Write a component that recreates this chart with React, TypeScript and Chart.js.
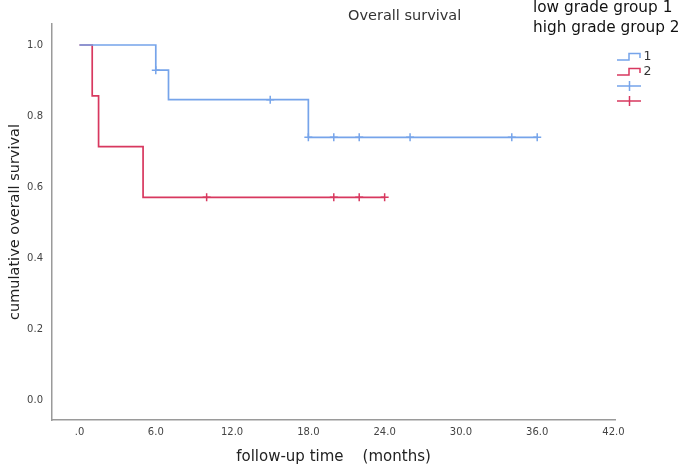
import React, { useEffect, useRef } from "react";
import { Chart, registerables } from "chart.js";

Chart.register(...registerables);

// ---- data ----
const xTickValues = [0, 6, 12, 18, 24, 30, 36, 42];
const yTickValues = [0, 0.2, 0.4, 0.6, 0.8, 1.0];

const group1Times = [0, 6, 7, 18, 36];
const group1Surv = [1.0, 0.929, 0.846, 0.74, 0.74];
const group1CensorTimes = [6, 15, 18, 20, 22, 26, 34, 36];
const group1CensorSurv = [0.929, 0.846, 0.74, 0.74, 0.74, 0.74, 0.74, 0.74];

const group2Times = [0, 1, 1.5, 5, 24];
const group2Surv = [1.0, 0.857, 0.714, 0.571, 0.571];
const group2CensorTimes = [10, 20, 22, 24];
const group2CensorSurv = [0.571, 0.571, 0.571, 0.571];

const legendLabels = ["1", "2"];
const titleText = "Overall survival";
const noteLines = ["low grade group 1", "high grade group 2"];
const xTitle = "follow-up time    (months)";
const yTitle = "cumulative overall survival";

const BLUE = "#76a4ea";
const RED = "#d8385f";
const FONT = "'DejaVu Sans', sans-serif";

const toPts = (xs: number[], ys: number[]) => xs.map((x, i) => ({ x, y: ys[i] }));

const overlayPlugin = {
  id: "overlay",
  afterDraw(chart: any) {
    const ctx = chart.ctx as CanvasRenderingContext2D;
    ctx.save();
    // title
    ctx.fillStyle = "#333";
    ctx.font = `14.5px ${FONT}`;
    ctx.textAlign = "left";
    ctx.textBaseline = "alphabetic";
    ctx.fillText(titleText, 348, 20);
    // note lines
    ctx.fillStyle = "#111";
    ctx.font = `15.3px ${FONT}`;
    ctx.fillText(noteLines[0], 533, 12);
    ctx.fillText(noteLines[1], 533, 32);

    // legend
    const colors = [BLUE, RED];
    ctx.lineWidth = 1.5;
    for (let i = 0; i < 2; i++) {
      const yb = 60 + i * 15;
      ctx.strokeStyle = colors[i];
      ctx.beginPath();
      ctx.moveTo(617, yb);
      ctx.lineTo(629, yb);
      ctx.lineTo(629, yb - 6.5);
      ctx.lineTo(640, yb - 6.5);
      ctx.lineTo(640, yb - 2);
      ctx.stroke();
      ctx.fillStyle = "#333";
      ctx.font = `12.5px ${FONT}`;
      ctx.textBaseline = "middle";
      ctx.fillText(legendLabels[i], 643.5, yb - 3.5);
    }
    for (let i = 0; i < 2; i++) {
      const yc = 86 + i * 15;
      ctx.strokeStyle = colors[i];
      ctx.beginPath();
      ctx.moveTo(617, yc);
      ctx.lineTo(641, yc);
      ctx.moveTo(629.5, yc - 5);
      ctx.lineTo(629.5, yc + 5);
      ctx.stroke();
    }
    ctx.restore();
  },
};

export default function App() {
  const ref = useRef<HTMLCanvasElement | null>(null);

  useEffect(() => {
    if (!ref.current) return;
    const chart = new Chart(ref.current, {
      type: "scatter",
      data: {
        datasets: [
          {
            label: "1",
            data: toPts(group1Times, group1Surv),
            showLine: true,
            stepped: "before",
            borderColor: BLUE,
            borderWidth: 1.7,
            pointRadius: 0,
            fill: false,
          },
          {
            label: "2",
            data: toPts(group2Times, group2Surv),
            showLine: true,
            stepped: "before",
            borderColor: RED,
            borderWidth: 1.7,
            pointRadius: 0,
            fill: false,
          },
          {
            label: "1 censored",
            data: toPts(group1CensorTimes, group1CensorSurv),
            showLine: false,
            pointStyle: "cross",
            pointRadius: 4,
            pointRotation: 0,
            borderColor: BLUE,
            backgroundColor: BLUE,
            pointBorderWidth: 1.5,
          },
          {
            label: "2 censored",
            data: toPts(group2CensorTimes, group2CensorSurv),
            showLine: false,
            pointStyle: "cross",
            pointRadius: 4,
            borderColor: RED,
            backgroundColor: RED,
            pointBorderWidth: 1.5,
          },
        ],
      },
      options: {
        animation: false,
        responsive: false,
        layout: { padding: { top: 24, right: 70, left: 0, bottom: 0 } },
        plugins: {
          legend: { display: false },
          tooltip: { enabled: false },
          title: { display: false },
        },
        scales: {
          x: {
            type: "linear",
            min: -2.163,
            max: 42.118,
            afterBuildTicks: (s: any) => {
              s.ticks = xTickValues.map((v) => ({ value: v }));
            },
            afterFit: (s: any) => {
              s.height = 49;
            },
            grid: { display: false, drawTicks: false },
            border: { display: true, color: "#9a9a9a", width: 1.5 },
            ticks: {
              padding: 6,
              color: "#444",
              font: { family: FONT, size: 10 },
              maxRotation: 0,
              autoSkip: false,
              callback: (v: any) => (Number(v) === 0 ? ".0" : Number(v).toFixed(1)),
            },
            title: {
              display: true,
              text: xTitle,
              color: "#222",
              font: { family: FONT, size: 15 },
              padding: { top: 0, bottom: 3 },
            },
          },
          y: {
            type: "linear",
            min: -0.0563,
            max: 1.0592,
            afterBuildTicks: (s: any) => {
              s.ticks = yTickValues.map((v) => ({ value: v }));
            },
            afterFit: (s: any) => {
              s.width = 52;
            },
            grid: { display: false, drawTicks: false },
            border: { display: true, color: "#9a9a9a", width: 1.5 },
            ticks: {
              padding: 9,
              color: "#444",
              font: { family: FONT, size: 10 },
              autoSkip: false,
              callback: (v: any) => Number(v).toFixed(1),
            },
            title: {
              display: true,
              text: yTitle,
              color: "#222",
              font: { family: FONT, size: 14.5 },
              padding: { top: 7, bottom: 0 },
            },
          },
        },
      },
      plugins: [overlayPlugin],
    });
    return () => chart.destroy();
  }, []);

  return (
    <div style={{ position: "absolute", left: 0, top: 0, width: 685, height: 469, background: "#fff" }}>
      <canvas ref={ref} width={685} height={469} style={{ display: "block" }} />
    </div>
  );
}
